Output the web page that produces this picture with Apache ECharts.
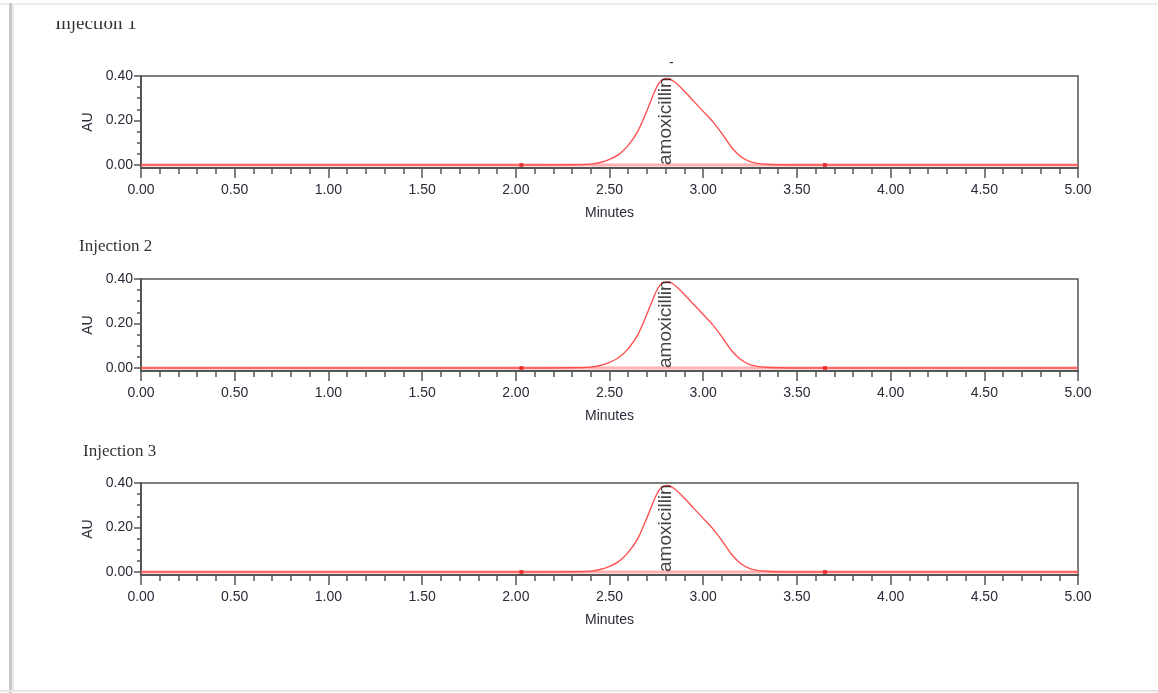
<!DOCTYPE html>
<html>
<head>
<meta charset="utf-8">
<script src="https://cdn.jsdelivr.net/npm/echarts@6/dist/echarts.min.js"></script>
<style>html,body{margin:0;padding:0;background:#fff;}#c{width:1158px;height:693px;}</style>
</head>
<body>
<div id="c"></div>
<script>
// ---- data ----
const panelTitles = ['Injection 1', 'Injection 2', 'Injection 3'];
const times = [0, 2.0, 2.3, 2.4, 2.45, 2.5, 2.55, 2.6, 2.65, 2.7, 2.75, 2.78, 2.81, 2.85, 2.9, 2.95, 3.0, 3.05, 3.1, 3.15, 3.2, 3.25, 3.3, 3.35, 3.4, 3.5, 5.0];
const inj1 = [0, 0, 0.001, 0.004, 0.011, 0.025, 0.048, 0.088, 0.15, 0.245, 0.347, 0.383, 0.389, 0.372, 0.331, 0.286, 0.241, 0.196, 0.141, 0.081, 0.038, 0.015, 0.006, 0.002, 0.001, 0, 0];
const inj2 = [0, 0, 0.001, 0.004, 0.011, 0.025, 0.047, 0.087, 0.148, 0.243, 0.345, 0.382, 0.388, 0.371, 0.33, 0.285, 0.24, 0.195, 0.14, 0.08, 0.038, 0.015, 0.006, 0.002, 0.001, 0, 0];
const inj3 = [0, 0, 0.001, 0.004, 0.011, 0.025, 0.048, 0.088, 0.149, 0.244, 0.346, 0.383, 0.389, 0.372, 0.331, 0.286, 0.241, 0.196, 0.141, 0.081, 0.038, 0.015, 0.006, 0.002, 0.001, 0, 0];
const injections = [inj1, inj2, inj3];
const peakName = 'amoxicillin';
const peakTime = 2.802;
const markerTimes = [2.03, 3.65];
const yTickLabels = [0, 0.2, 0.4];
const yMinorTicks = [0.05, 0.1, 0.15, 0.25, 0.3, 0.35];
const xMin = 0, xMax = 5, xStep = 0.5;
const yMin = -0.0135, yMax = 0.4;

// ---- layout ----
const gridTops = [76, 279, 483];
const gridH = 92;
const axisColor = '#555';
const labelColor = '#2a2a38';

const grids = [], xAxes = [], yAxes = [], series = [];
gridTops.forEach((top, i) => {
  grids.push({left: 141, right: 80, top: top, height: gridH, show: true, borderColor: axisColor, borderWidth: 1.5, backgroundColor: '#fff'});
  xAxes.push({
    type: 'value', gridIndex: i, min: xMin, max: xMax, interval: xStep,
    name: 'Minutes', nameLocation: 'middle', nameGap: 38,
    nameTextStyle: {fontFamily: 'Liberation Sans, Arial', fontSize: 14, color: labelColor},
    axisLine: {onZero: false, lineStyle: {color: axisColor, width: 2}},
    axisTick: {length: 10, lineStyle: {color: axisColor, width: 1.5}},
    minorTick: {show: true, splitNumber: 5, length: 6, lineStyle: {color: axisColor, width: 1.5}},
    axisLabel: {fontFamily: 'Liberation Sans, Arial', fontSize: 14, color: labelColor, margin: 15,
      formatter: v => v.toFixed(2)},
    splitLine: {show: false}
  });
  yAxes.push({
    type: 'value', gridIndex: i, min: yMin, max: yMax, position: 'left',
    name: 'AU', nameLocation: 'middle', nameGap: 41, nameRotate: 90,
    nameTextStyle: {fontFamily: 'Liberation Sans, Arial', fontSize: 14, color: labelColor},
    axisLine: {show: true, lineStyle: {color: axisColor, width: 2}},
    axisTick: {show: true, length: 7, customValues: yTickLabels, lineStyle: {color: axisColor, width: 1.5}},
    axisLabel: {fontFamily: 'Liberation Sans, Arial', fontSize: 14, color: labelColor, margin: 8,
      customValues: yTickLabels, formatter: v => v.toFixed(2)},
    splitLine: {show: false}
  });
  yAxes.push({
    type: 'value', gridIndex: i, min: yMin, max: yMax, position: 'left', offset: 0,
    axisLine: {show: false},
    axisTick: {show: true, length: 4, customValues: yMinorTicks, lineStyle: {color: axisColor, width: 1.5}},
    axisLabel: {show: false},
    splitLine: {show: false}
  });
  const xi = i, yi = 2 * i;
  series.push({
    type: 'line', xAxisIndex: xi, yAxisIndex: yi, symbol: 'none', silent: true,
    data: [[xMin, 0], [xMax, 0]],
    lineStyle: {color: '#ff7070', width: 3, opacity: 0.55}, z: 2
  });
  series.push({
    type: 'line', xAxisIndex: xi, yAxisIndex: yi, symbol: 'none', silent: true,
    smooth: 0.3,
    data: times.map((t, k) => [t, injections[i][k]]),
    lineStyle: {color: '#ff5050', width: 1.4}, z: 3
  });
  series.push({
    type: 'scatter', xAxisIndex: xi, yAxisIndex: yi, symbol: 'rect', symbolSize: 4, silent: true,
    data: markerTimes.map(t => [t, 0]),
    itemStyle: {color: '#e02020'}, z: 4
  });
  series.push({
    type: 'scatter', xAxisIndex: xi, yAxisIndex: yi, symbolSize: 0, silent: true,
    data: [[peakTime, 0]],
    label: {show: true, formatter: peakName, rotate: 90, position: 'insideBottom', distance: 0,
      align: 'left', verticalAlign: 'middle',
      fontFamily: 'Liberation Sans, Arial', fontSize: 19, color: '#111'},
    z: 5
  });
});

const chart = echarts.init(document.getElementById('c'), null, {renderer: 'canvas'});
chart.setOption({
  animation: false,
  backgroundColor: '#fff',
  grid: grids, xAxis: xAxes, yAxis: yAxes, series: series,
  graphic: [
    {type: 'text', left: 55, top: 15, z: 10, style: {text: panelTitles[0], font: '19px "Liberation Serif"', fill: '#333'}},
    {type: 'rect', left: 0, top: 0, z: 11, shape: {width: 1158, height: 21}, style: {fill: '#fff'}},
    {type: 'rect', left: 0, top: 3, z: 12, shape: {width: 1158, height: 2}, style: {fill: '#ececec'}},
    {type: 'rect', left: 9, top: 3, z: 12, shape: {width: 3, height: 690}, style: {fill: '#c8c8c8'}},
    {type: 'rect', left: 12, top: 5, z: 12, shape: {width: 2, height: 686}, style: {fill: '#ececec'}},
    {type: 'rect', left: 0, top: 690, z: 12, shape: {width: 1158, height: 2}, style: {fill: '#e6e6e6'}},
    {type: 'text', left: 79, top: 238, z: 10, style: {text: panelTitles[1], font: '17px "Liberation Serif"', fill: '#333'}},
    {type: 'text', left: 83, top: 443, z: 10, style: {text: panelTitles[2], font: '17px "Liberation Serif"', fill: '#333'}},
    {type: 'text', left: 669, top: 56, z: 10, style: {text: '-', font: '14px "Liberation Sans"', fill: '#333'}}
  ]
});
</script>
</body>
</html>
